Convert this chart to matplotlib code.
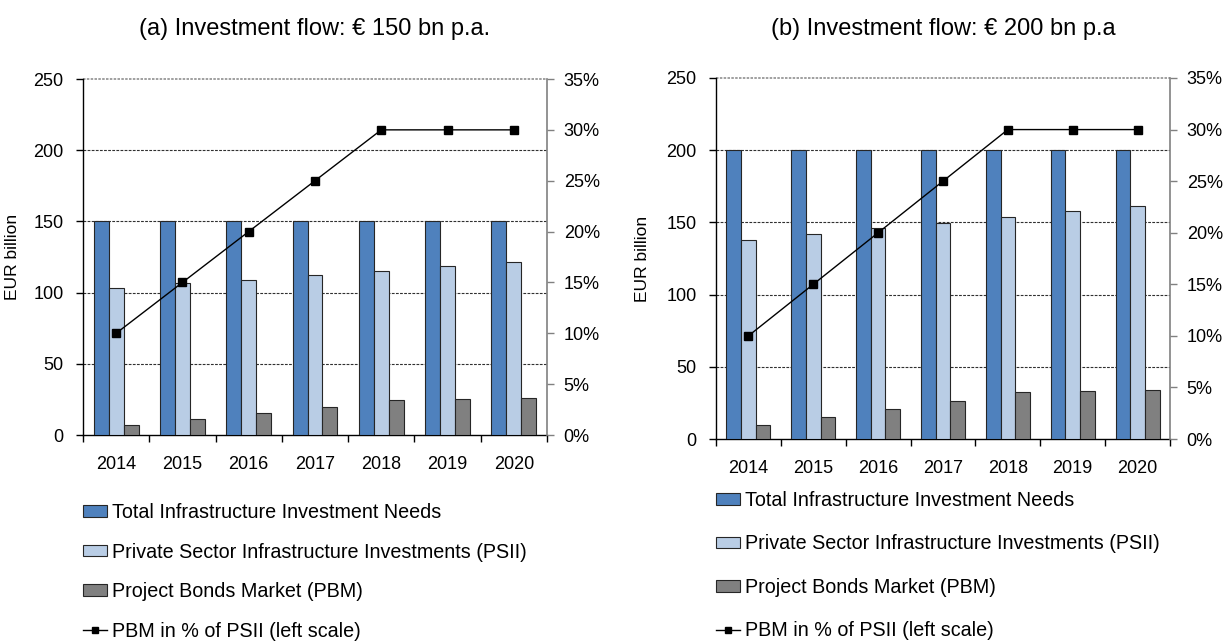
import numpy as np
import matplotlib
matplotlib.use("Agg")
import matplotlib.pyplot as plt
from matplotlib.patches import Patch
from matplotlib.lines import Line2D
from matplotlib.ticker import FuncFormatter

plt.rcParams['font.family'] = ['Liberation Sans', 'DejaVu Sans']

years = ['2014', '2015', '2016', '2017', '2018', '2019', '2020']

# Panel (a): investment flow 150 bn p.a.
total_a = [150, 150, 150, 150, 150, 150, 150]
psii_a = [103, 106.5, 109, 112.4, 115.2, 118.4, 121.3]
pbm_a = [7.0, 11.2, 15.2, 19.9, 24.3, 25.0, 25.7]
share_a = [10, 15, 20, 25, 30, 30, 30]

# Panel (b): investment flow 200 bn p.a.
total_b = [200, 200, 200, 200, 200, 200, 200]
psii_b = [137.9, 142.1, 145.8, 149.7, 153.6, 157.6, 161.5]
pbm_b = [9.9, 15.0, 20.6, 26.3, 32.3, 33.5, 34.0]
share_b = [10, 15, 20, 25, 30, 30, 30]

titles = ['(a) Investment flow: € 150 bn p.a.', '(b) Investment flow: € 200 bn p.a']
labels = ['Total Infrastructure Investment Needs',
          'Private Sector Infrastructure Investments (PSII)',
          'Project Bonds Market (PBM)',
          'PBM in % of PSII (left scale)']

c_total = '#4F81BD'
c_psii = '#B9CDE5'
c_pbm = '#808080'
edge = '#262626'

W, H = 1228, 641
fig = plt.figure(figsize=(W / 100, H / 100), dpi=100)


def px_axes(x0, y0, x1, y1):
    return fig.add_axes([x0 / W, 1 - y1 / H, (x1 - x0) / W, (y1 - y0) / H])


def draw_panel(box, total, psii, pbm, share, title, ylabel_x, leg_top, leg_space):
    ax = px_axes(*box)
    x = np.arange(len(years))
    bw = 0.226
    ax.bar(x - bw, total, bw, color=c_total, edgecolor=edge, linewidth=0.8, zorder=3)
    ax.bar(x, psii, bw, color=c_psii, edgecolor=edge, linewidth=0.8, zorder=3)
    ax.bar(x + bw, pbm, bw, color=c_pbm, edgecolor=edge, linewidth=0.8, zorder=3)
    ax.set_xlim(-0.5, len(years) - 0.5)
    ax.set_ylim(0, 250)
    ax.set_yticks([0, 50, 100, 150, 200, 250])
    for v in [50, 100, 150, 200]:
        ax.axhline(v, color='#303030', lw=0.8, ls=(0, (2.5, 1.2)), zorder=1)
    ax.axhline(250, color='#909090', lw=1.2, ls=(0, (1.5, 0.8)), zorder=1, clip_on=False)
    ax.set_xticks(np.arange(-0.5, len(years), 1.0))
    ax.set_xticklabels([])
    ax.set_xticks(x, minor=True)
    ax.set_xticklabels(years, minor=True)
    ax.tick_params(axis='x', which='major', direction='out', length=5, width=1, color='black')
    ax.tick_params(axis='x', which='minor', length=0, pad=15, labelsize=13)
    ax.tick_params(axis='y', direction='out', length=5, width=1, pad=9, labelsize=13)
    for s in ['top', 'right']:
        ax.spines[s].set_visible(False)
    ax.spines['left'].set_linewidth(1)
    ax.spines['bottom'].set_linewidth(1)
    ax.set_ylabel('EUR billion', fontsize=12.5)
    ax.yaxis.set_label_coords((ylabel_x - box[0]) / (box[2] - box[0]), 0.5)

    ax2 = ax.twinx()
    ax2.set_ylim(0, 35)
    ax2.set_yticks(np.arange(0, 36, 5))
    ax2.yaxis.set_major_formatter(FuncFormatter(lambda v, p: f'{v:.0f}%'))
    ax2.plot(x, share, color='black', lw=1, marker='s', ms=5.5, mfc='black', mec='black', zorder=5)
    for s in ['top', 'left', 'bottom']:
        ax2.spines[s].set_visible(False)
    ax2.spines['right'].set_color('#808080')
    ax2.spines['right'].set_linewidth(1.2)
    ax2.tick_params(axis='y', direction='out', length=5, width=1, color='#808080', pad=7, labelsize=13)

    cx = (box[0] + box[2]) / 2
    fig.text(cx / W, 1 - 35 / H, title, ha='center', va='baseline', fontsize=17)

    handles = [Patch(facecolor=c_total, edgecolor=edge, linewidth=0.8),
               Patch(facecolor=c_psii, edgecolor=edge, linewidth=0.8),
               Patch(facecolor=c_pbm, edgecolor=edge, linewidth=0.8),
               Line2D([], [], color='black', lw=1, marker='s', ms=4.5)]
    fig.legend(handles, labels, loc='upper left',
               bbox_to_anchor=(box[0] / W, 1 - leg_top / H),
               frameon=False, fontsize=14.2, borderpad=0, borderaxespad=0,
               handlelength=1.2, handleheight=0.5, handletextpad=0.25,
               labelspacing=leg_space)
    return ax


draw_panel((83, 79, 547, 435), total_a, psii_a, pbm_a, share_a, titles[0], 20, 503, 1.04)
draw_panel((716, 78, 1170, 439), total_b, psii_b, pbm_b, share_b, titles[1], 650, 491, 1.24)

fig.savefig('out.png', dpi=100)
